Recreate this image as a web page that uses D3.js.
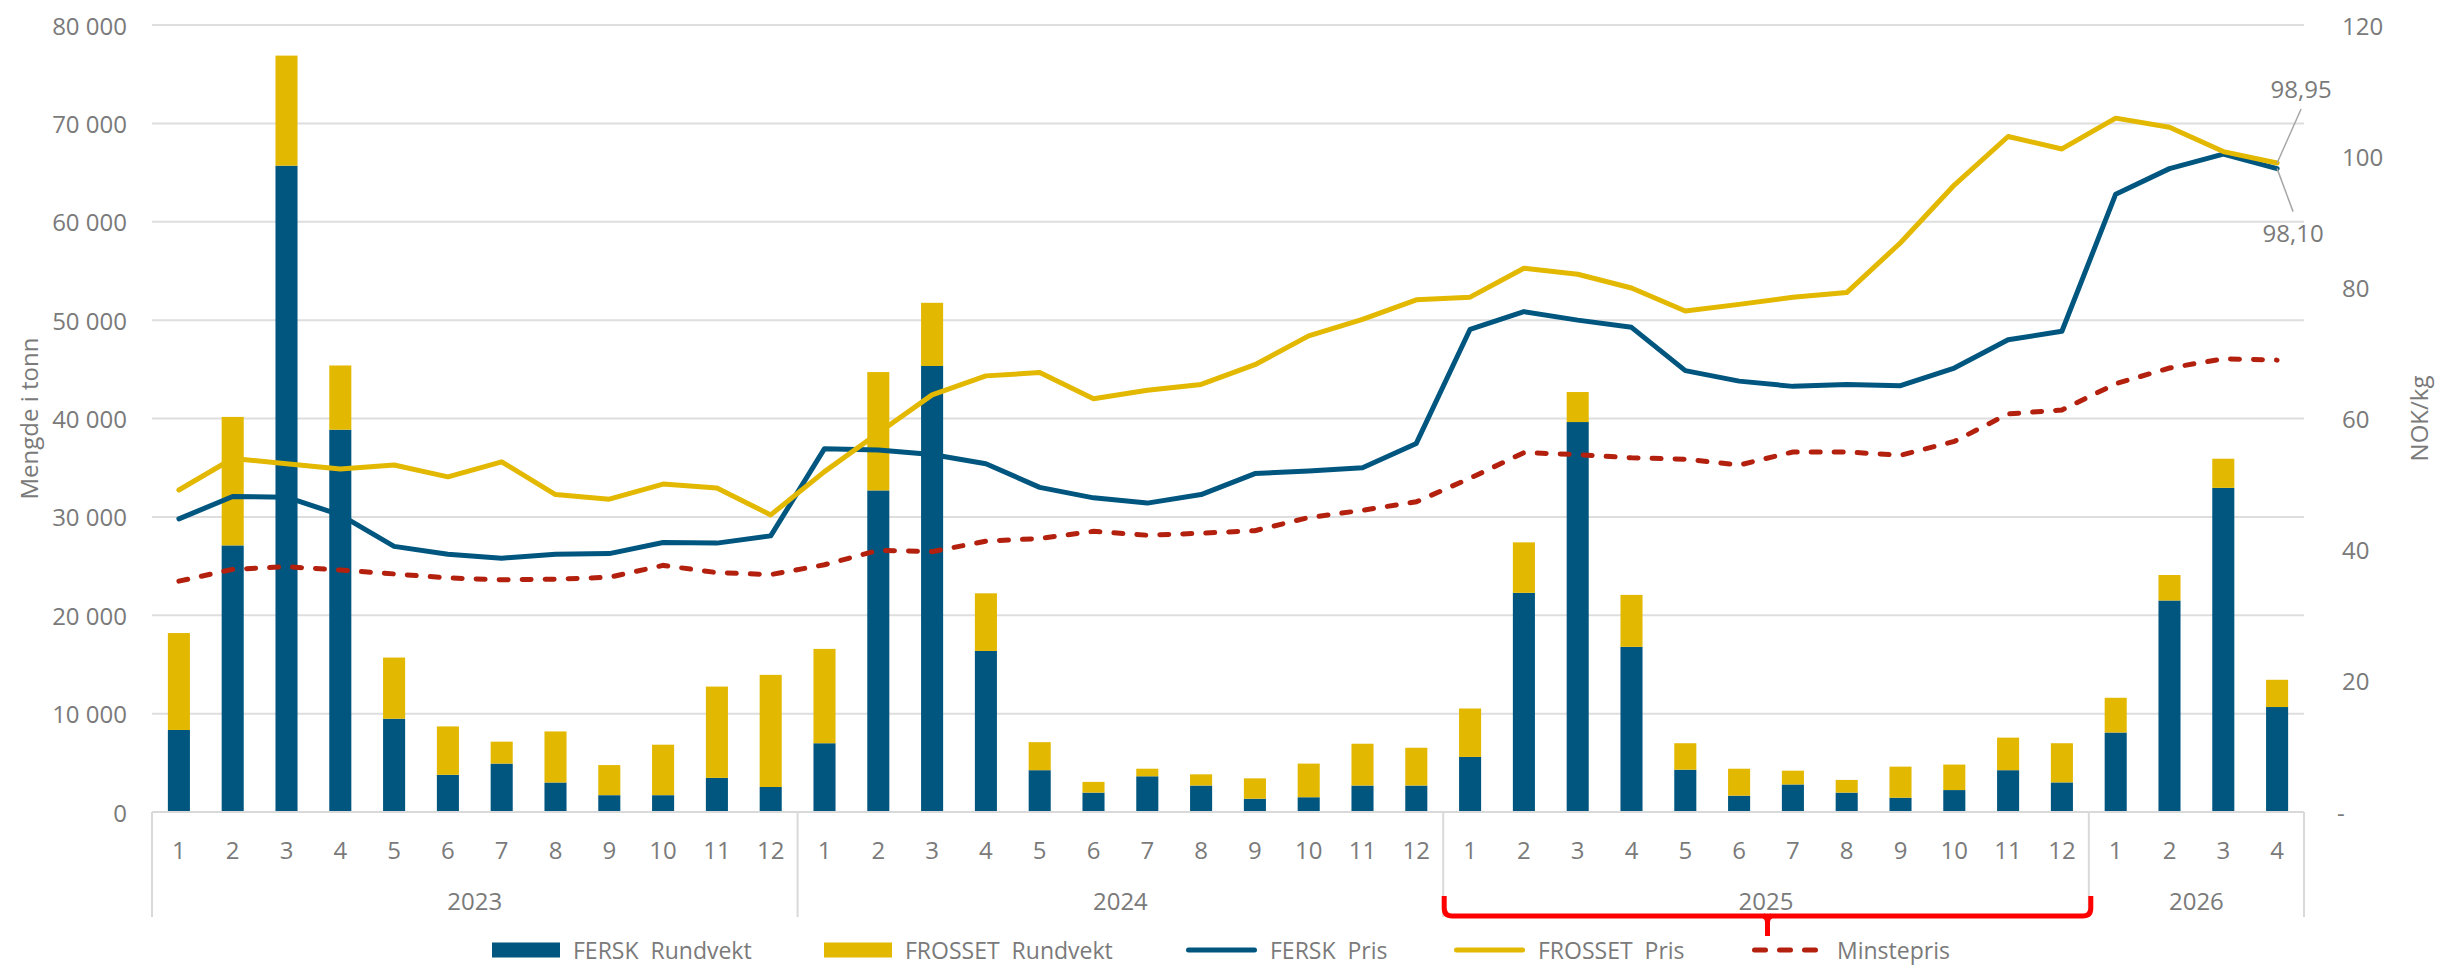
<!DOCTYPE html>
<html>
<head>
<meta charset="utf-8">
<script src="https://cdn.jsdelivr.net/npm/d3@7"></script>
<style>
  body { margin: 0; background: #fff; }
  text { font-family: "Open Sans", sans-serif; fill: #7a7a7a; white-space: pre; }
</style>
</head>
<body>
<div id="container"></div>
<script>
/* CONSTANTS AND GLOBALS */
const width = 2438,
  height = 967,
  margin = { top: 25, bottom: 155, left: 152, right: 134 };

const fontSize = 24
const blue = "#00567f"
const yellow = "#e3b800"
const red = "#b3200e"
const grid = "#dedede"

/* DATA */
const categories = [
  "2023-1", "2023-2", "2023-3", "2023-4", "2023-5", "2023-6", "2023-7", "2023-8", "2023-9", "2023-10", "2023-11", "2023-12",
  "2024-1", "2024-2", "2024-3", "2024-4", "2024-5", "2024-6", "2024-7", "2024-8", "2024-9", "2024-10", "2024-11", "2024-12",
  "2025-1", "2025-2", "2025-3", "2025-4", "2025-5", "2025-6", "2025-7", "2025-8", "2025-9", "2025-10", "2025-11", "2025-12",
  "2026-1", "2026-2", "2026-3", "2026-4"
];
const years = ["2023", "2024", "2025", "2026"];

// tonn
const ferskRundvekt = [
  8340, 27100, 65700, 38860, 9480, 3780, 4920, 3000, 1710, 1710, 3470, 2540,
  6990, 32690, 45340, 16370, 4250, 1970, 3630, 2690, 1350, 1500, 2690, 2690,
  5600, 22280, 39640, 16790, 4300, 1660, 2800, 1970, 1450, 2230, 4250, 3010,
  8080, 21500, 32950, 10670
];
const frossetRundvekt = [
  9850, 13060, 11190, 6530, 6220, 4920, 2230, 5190, 3060, 5130, 9280, 11400,
  9590, 12030, 6420, 5860, 2850, 1090, 770, 1140, 2070, 3420, 4250, 3840,
  4920, 5130, 3050, 5280, 2690, 2740, 1400, 1290, 3160, 2590, 3310, 3980,
  3530, 2590, 2960, 2770
];

// NOK/kg
const ferskPris = [
  44.7, 48.1, 48.0, 45.3, 40.5, 39.3, 38.7, 39.3, 39.4, 41.1, 41.0, 42.1,
  55.4, 55.2, 54.5, 53.1, 49.5, 47.9, 47.1, 48.4, 51.6, 52.0, 52.5, 56.2,
  73.6, 76.3, 75.0, 73.9, 67.3, 65.7, 64.9, 65.2, 65.0, 67.7, 72.0, 73.3,
  94.2, 98.1, 100.3, 98.10
];
const frossetPris = [
  49.1, 53.9, 53.1, 52.3, 52.9, 51.1, 53.4, 48.4, 47.7, 50.0, 49.4, 45.3,
  51.9, 57.8, 63.6, 66.5, 67.0, 63.0, 64.3, 65.2, 68.2, 72.6, 75.1, 78.1,
  78.5, 82.9, 82.0, 79.9, 76.4, 77.4, 78.5, 79.2, 86.8, 95.6, 103.0, 101.1,
  105.8, 104.4, 100.7, 98.95
];
const minstepris = [
  35.2, 37.0, 37.4, 36.9, 36.3, 35.7, 35.4, 35.5, 35.8, 37.6, 36.5, 36.2,
  37.7, 39.9, 39.7, 41.3, 41.7, 42.8, 42.2, 42.5, 42.9, 44.9, 46.0, 47.3,
  50.9, 54.8, 54.5, 54.0, 53.8, 52.9, 54.9, 54.9, 54.4, 56.5, 60.7, 61.3,
  65.3, 67.7, 69.1, 68.9
];

const leftTicks = [0, 10000, 20000, 30000, 40000, 50000, 60000, 70000, 80000];
const rightTicks = [0, 20, 40, 60, 80, 100, 120];
const seriesNames = ["FERSK  Rundvekt", "FROSSET  Rundvekt", "FERSK  Pris", "FROSSET  Pris", "Minstepris"];

const svg = d3.select("#container")
  .append("svg")
  .attr("width", width)
  .attr("height", height)
  .style("display", "block");

/* SCALES */
const xScale = d3.scaleBand()
  .domain(categories)
  .range([margin.left, width - margin.right])
  .paddingInner(0.59)
  .paddingOuter(0.295);

const yLeft = d3.scaleLinear()
  .domain([0, 80000])
  .range([height - margin.bottom, margin.top]);

const yRight = d3.scaleLinear()
  .domain([0, 120])
  .range([height - margin.bottom, margin.top]);

const pad = (xScale.step() - xScale.bandwidth()) / 2
const xLeft = c => xScale(c) - pad
const xMid = c => xScale(c) + xScale.bandwidth() / 2
const x0 = margin.left, x1 = width - margin.right, yBase = yLeft(0)

/* GRIDLINES */
svg.selectAll("line.grid")
  .data(leftTicks.filter(d => d > 0))
  .join("line")
  .attr("class", "grid")
  .attr("x1", x0).attr("x2", x1)
  .attr("y1", d => yLeft(d)).attr("y2", d => yLeft(d))
  .attr("stroke", grid)
  .attr("stroke-width", 2);

/* LEFT AXIS LABELS */
const fmtLeft = d => d3.format(",")(d).replace(/,/g, " ")
svg.selectAll("text.ytick")
  .data(leftTicks)
  .join("text")
  .attr("class", "ytick")
  .attr("x", 127)
  .attr("y", d => yLeft(d))
  .attr("dominant-baseline", "central")
  .attr("text-anchor", "end")
  .attr("font-size", fontSize)
  .text(fmtLeft);

/* RIGHT AXIS LABELS */
svg.selectAll("text.ytick2")
  .data(rightTicks)
  .join("text")
  .attr("class", "ytick2")
  .attr("x", d => d === 0 ? 2337 : 2342)
  .attr("y", d => yRight(d))
  .attr("dominant-baseline", "central")
  .attr("font-size", fontSize)
  .text(d => d === 0 ? "-" : d);

/* AXIS TITLES */
svg.append("text")
  .attr("transform", `translate(28, ${(yBase + margin.top) / 2}) rotate(-90)`)
  .attr("text-anchor", "middle")
  .attr("dominant-baseline", "central")
  .attr("font-size", fontSize)
  .text("Mengde i tonn");

svg.append("text")
  .attr("transform", `translate(2418, ${(yBase + margin.top) / 2}) rotate(-90)`)
  .attr("text-anchor", "middle")
  .attr("dominant-baseline", "central")
  .attr("font-size", fontSize)
  .text("NOK/kg");

/* STACKED BARS */
const table = categories.map((c, i) => ({ cat: c, fersk: ferskRundvekt[i], frosset: frossetRundvekt[i] }))
const stacked = d3.stack().keys(["fersk", "frosset"])(table)
const barColors = { fersk: blue, frosset: yellow }

svg.selectAll("g.layer")
  .data(stacked)
  .join("g")
  .attr("class", "layer")
  .attr("fill", d => barColors[d.key])
  .selectAll("rect")
  .data(d => d)
  .join("rect")
  .attr("x", d => xScale(d.data.cat))
  .attr("width", xScale.bandwidth())
  .attr("y", d => yLeft(d[1]))
  .attr("height", d => yLeft(d[0]) - yLeft(d[1]));

/* CATEGORY AXIS */
svg.append("line")
  .attr("x1", x0).attr("x2", x1)
  .attr("y1", yBase).attr("y2", yBase)
  .attr("stroke", "#d9d9d9")
  .attr("stroke-width", 2);

const boundaries = years.map(y => xLeft(y + "-1")).concat([x1])
svg.selectAll("line.sep")
  .data(boundaries)
  .join("line")
  .attr("class", "sep")
  .attr("x1", d => d).attr("x2", d => d)
  .attr("y1", yBase).attr("y2", 917)
  .attr("stroke", "#d9d9d9")
  .attr("stroke-width", 2);

svg.selectAll("text.month")
  .data(categories)
  .join("text")
  .attr("class", "month")
  .attr("x", d => xMid(d))
  .attr("y", 849)
  .attr("text-anchor", "middle")
  .attr("dominant-baseline", "central")
  .attr("font-size", fontSize)
  .text(d => d.split("-")[1]);

svg.selectAll("text.year")
  .data(years)
  .join("text")
  .attr("class", "year")
  .attr("x", (d, i) => (boundaries[i] + boundaries[i + 1]) / 2)
  .attr("y", 900)
  .attr("text-anchor", "middle")
  .attr("dominant-baseline", "central")
  .attr("font-size", fontSize)
  .text(d => d);

/* PRICE LINES */
const lineGen = d3.line()
  .x((d, i) => xMid(categories[i]))
  .y(d => yRight(d))

svg.append("path")
  .attr("d", lineGen(ferskPris))
  .attr("fill", "none")
  .attr("stroke", blue)
  .attr("stroke-width", 5)
  .attr("stroke-linejoin", "round")
  .attr("stroke-linecap", "round");

svg.append("path")
  .attr("d", lineGen(frossetPris))
  .attr("fill", "none")
  .attr("stroke", yellow)
  .attr("stroke-width", 5)
  .attr("stroke-linejoin", "round")
  .attr("stroke-linecap", "round");

svg.append("path")
  .attr("d", lineGen(minstepris))
  .attr("fill", "none")
  .attr("stroke", red)
  .attr("stroke-width", 5)
  .attr("stroke-dasharray", "9 14")
  .attr("stroke-linecap", "round");

/* END LABELS */
const last = categories.length - 1
const fmtDec = v => d3.format(".2f")(v).replace(".", ",")
const lx = xMid(categories[last])
const endLabels = [
  { v: frossetPris[last], dx: 24, ty: -65, ly: -54 },
  { v: ferskPris[last], dx: 16, ty: 73, ly: 43 }
]
endLabels.forEach(d => {
  const py = yRight(d.v)
  svg.append("line")
    .attr("x1", lx).attr("y1", py)
    .attr("x2", lx + d.dx).attr("y2", py + d.ly)
    .attr("stroke", "#a6a6a6")
    .attr("stroke-width", 1.5);
  svg.append("text")
    .attr("x", lx + d.dx)
    .attr("y", py + d.ty)
    .attr("text-anchor", "middle")
    .attr("font-size", fontSize)
    .text(fmtDec(d.v));
})

/* RED BRACKET round 2025 */
const bL = xLeft("2025-1") + 1, bR = xLeft("2026-1") + 2, bMid = (bL + bR) / 2
svg.append("path")
  .attr("d", `M${bL},896 V908 Q${bL},916 ${bL + 8},916 H${bR - 8} Q${bR},916 ${bR},908 V896`)
  .attr("fill", "none")
  .attr("stroke", "#ff0000")
  .attr("stroke-width", 5);
svg.append("path")
  .attr("d", `M${bMid - 4},916 Q${bMid},917 ${bMid},922 V936 M${bMid + 4},916 Q${bMid},917 ${bMid},922`)
  .attr("fill", "none")
  .attr("stroke", "#ff0000")
  .attr("stroke-width", 5);

/* LEGEND */
const legendY = 950
const legendItems = [
  { name: seriesNames[0], type: "rect", color: blue, x: 492 },
  { name: seriesNames[1], type: "rect", color: yellow, x: 824 },
  { name: seriesNames[2], type: "line", color: blue, x: 1186 },
  { name: seriesNames[3], type: "line", color: yellow, x: 1454 },
  { name: seriesNames[4], type: "dash", color: red, x: 1752 }
]

const legend = svg.selectAll("g.legend")
  .data(legendItems)
  .join("g")
  .attr("class", "legend")
  .attr("transform", d => `translate(${d.x}, ${legendY})`)

legend.filter(d => d.type === "rect")
  .append("rect")
  .attr("x", 0).attr("y", -7.5)
  .attr("width", 68).attr("height", 15)
  .attr("fill", d => d.color);

legend.filter(d => d.type === "line")
  .append("line")
  .attr("x1", 2.5).attr("x2", 68.5)
  .attr("stroke", d => d.color)
  .attr("stroke-width", 5)
  .attr("stroke-linecap", "round");

legend.filter(d => d.type === "dash")
  .append("line")
  .attr("x1", 2.5).attr("x2", 63.5)
  .attr("stroke", d => d.color)
  .attr("stroke-width", 5)
  .attr("stroke-dasharray", "11 14")
  .attr("stroke-linecap", "round");

legend.append("text")
  .attr("x", d => d.type === "dash" ? 85 : (d.type === "line" ? 84 : 81))
  .attr("y", 0)
  .attr("dominant-baseline", "central")
  .attr("font-size", 23)
  .text(d => d.name);
</script>
</body>
</html>
